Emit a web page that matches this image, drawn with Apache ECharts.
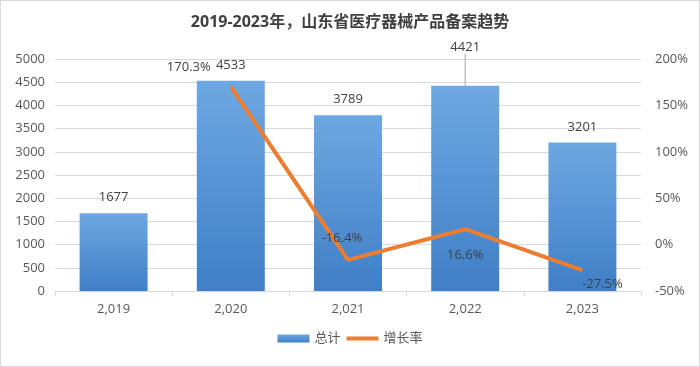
<!DOCTYPE html>
<html><head><meta charset="utf-8">
<script src="https://cdn.jsdelivr.net/npm/echarts@6/dist/echarts.min.js"></script>
<style>html,body{margin:0;padding:0;background:#fff;}#c{width:698px;height:365px;border:1px solid #d9d9d9;}</style>
</head><body><div id="c"></div>
<script>
var categories = ['2,019', '2,020', '2,021', '2,022', '2,023'];
var totals = [1677, 4533, 3789, 4421, 3201];
var growth = [null, 170.3, -16.4, 16.6, -27.5];
var leftTicks = [0, 5000, 500];
var rightTicks = [-50, 200, 50];

var lineLabelOffsets = [null, [-42, -3], [-6, -5], [0, 10], [20, -2]];
var lineLabelPos = [null, 'top', 'top', 'bottom', 'bottom'];

var chart = echarts.init(document.getElementById('c'));
var fontFam = '"Open Sans", "Noto Sans CJK SC", sans-serif';
chart.setOption({
  animation: false,
  textStyle: {fontFamily: fontFam},
  title: {text: '2019-2023年，山东省医疗器械产品备案趋势', left: 'center', top: 8,
    textStyle: {fontSize: 16, fontWeight: 'bold', color: '#404040', fontFamily: fontFam}},
  grid: {left: 54, right: 58, top: 58, bottom: 75},
  legend: {bottom: 16, itemGap: 6, itemWidth: 32, itemHeight: 8,
    textStyle: {fontSize: 13, color: '#595959'},
    data: [{name: '总计', icon: 'rect'}, {name: '增长率', icon: 'path://M0,0h32v4h-32z'}]},
  xAxis: {type: 'category', data: categories,
    axisLine: {lineStyle: {color: '#d9d9d9'}},
    axisTick: {show: true, length: 5, lineStyle: {color: '#d9d9d9'}},
    axisLabel: {fontSize: 13, color: '#595959', margin: 12}},
  yAxis: [
    {type: 'value', min: leftTicks[0], max: leftTicks[1], interval: leftTicks[2],
      axisLine: {show: false}, axisTick: {show: false},
      splitLine: {lineStyle: {color: '#d9d9d9'}},
      axisLabel: {fontSize: 13, color: '#595959', margin: 10, formatter: function (v) { return String(v); }}},
    {type: 'value', min: rightTicks[0], max: rightTicks[1], interval: rightTicks[2],
      axisLine: {show: false}, axisTick: {show: false}, splitLine: {show: false},
      axisLabel: {fontSize: 13, color: '#595959', margin: 14, formatter: '{value}%'}}
  ],
  series: [
    {name: '总计', type: 'bar', barWidth: '58%',
      itemStyle: {color: new echarts.graphic.LinearGradient(0, 0, 0, 1, [
        {offset: 0, color: '#6ea8e2'}, {offset: 1, color: '#3f7fc6'}])},
      label: {show: true, position: 'top', distance: 9, fontSize: 13, color: '#404040'},
      labelLayout: function (p) { return p.dataIndex === 3 ? {dy: -23} : {}; },
      data: totals.map(function (v, i) {
        if (i === 3) return {value: v, labelLine: {show: true, lineStyle: {color: '#a6a6a6', width: 1}}};
        return v;
      })},
    {name: '增长率', type: 'line', yAxisIndex: 1, symbol: 'circle', symbolSize: 0.1, showSymbol: true,
      connectNulls: false,
      lineStyle: {color: '#ed7d31', width: 4}, itemStyle: {color: '#ed7d31'},
      label: {show: true, fontSize: 13, color: '#404040', formatter: '{c}%'},
      data: growth.map(function (v, i) {
        if (v === null) return null;
        return {value: v, label: {position: lineLabelPos[i], offset: lineLabelOffsets[i], distance: 10}};
      })}
  ]
});
</script></body></html>
